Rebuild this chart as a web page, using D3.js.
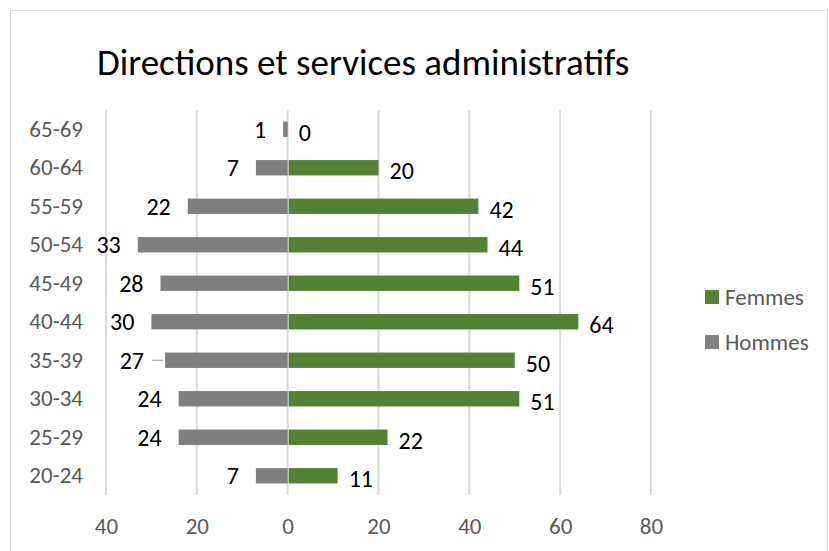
<!DOCTYPE html>
<html>
<head>
<meta charset="utf-8">
<script src="https://cdn.jsdelivr.net/npm/d3@7"></script>
<style>
  body { margin: 0; background: #fff; }
  text { font-family: Carlito, Calibri, "Open Sans", sans-serif; }
</style>
</head>
<body>
<div id="chart"></div>
<script>
// age groups, bottom to top
var categories = ["20-24", "25-29", "30-34", "35-39", "40-44", "45-49", "50-54", "55-59", "60-64", "65-69"];
var hommes = [7, 24, 24, 27, 30, 28, 33, 22, 7, 1];
var femmes = [11, 22, 51, 50, 64, 51, 44, 42, 20, 0];
var ticks = [-40, -20, 0, 20, 40, 60, 80];
var title = "Directions et services administratifs";

var W = 829, H = 551;
var green = "#548235", grey = "#7f7f7f";

var svg = d3.select("#chart").append("svg")
    .attr("width", W)
    .attr("height", H);

// chart frame
svg.append("rect")
    .attr("x", 10.5).attr("y", 10.5)
    .attr("width", W - 12).attr("height", H)
    .attr("fill", "#fff")
    .attr("stroke", "#d9d9d9");

svg.append("text")
    .attr("x", 97).attr("y", 75)
    .attr("font-size", 37)
    .attr("fill", "#000")
    .text(title);

var x = d3.scaleLinear().domain([-40, 80]).range([106, 651]);
var y = d3.scaleBand().domain(categories.slice().reverse()).range([110, 495]).paddingInner(0.6).paddingOuter(0.3);

// gridlines
svg.append("g").selectAll("line")
    .data(ticks)
    .join("line")
    .attr("x1", d => x(d)).attr("x2", d => x(d))
    .attr("y1", 110).attr("y2", 495)
    .attr("stroke", "#d9d9d9")
    .attr("stroke-width", 2);

// bottom axis labels (absolute values)
var xAxis = d3.axisBottom(x).tickValues(ticks).tickFormat(d => Math.abs(d)).tickSize(0).tickPadding(0);
var gx = svg.append("g").attr("transform", "translate(0,518)").call(xAxis);
gx.select(".domain").remove();
gx.selectAll("text").attr("font-size", 23).attr("fill", "#595959").attr("dy", "0.71em")
    .style("font-family", "Carlito, Calibri, 'Open Sans', sans-serif");

// left category labels
var yAxis = d3.axisLeft(y).tickSize(0).tickPadding(0);
var gy = svg.append("g").attr("transform", "translate(83,0)").call(yAxis);
gy.select(".domain").remove();
gy.selectAll("text").attr("font-size", 23).attr("fill", "#595959")
    .style("font-family", "Carlito, Calibri, 'Open Sans', sans-serif");

var rows = categories.map(function(c, i) { return {cat: c, h: hommes[i], f: femmes[i]}; });

// Hommes bars (to the left)
svg.append("g").selectAll("rect")
    .data(rows)
    .join("rect")
    .attr("x", d => x(-d.h))
    .attr("y", d => y(d.cat))
    .attr("width", d => x(0) - x(-d.h))
    .attr("height", y.bandwidth())
    .attr("fill", grey);

// Femmes bars (to the right)
svg.append("g").selectAll("rect")
    .data(rows)
    .join("rect")
    .attr("x", x(0) + 1)
    .attr("y", d => y(d.cat))
    .attr("width", d => Math.max(0, x(d.f) - x(0) - 1))
    .attr("height", y.bandwidth())
    .attr("fill", green);

// value labels
svg.append("g").selectAll("text")
    .data(rows)
    .join("text")
    .attr("x", d => x(-d.h) - (d.cat == "35-39" ? 21 : 17))
    .attr("y", d => y(d.cat) + y.bandwidth() / 2)
    .attr("dy", "0.35em")
    .attr("text-anchor", "end")
    .attr("font-size", 24)
    .attr("fill", "#000")
    .text(d => d.h);

// leader line for the displaced 27 label
var r27 = rows[3];
svg.append("line")
    .attr("x1", x(-r27.h) - 13).attr("x2", x(-r27.h) - 2)
    .attr("y1", y(r27.cat) + y.bandwidth() / 2).attr("y2", y(r27.cat) + y.bandwidth() / 2)
    .attr("stroke", "#a6a6a6").attr("stroke-width", 1.2);

svg.append("g").selectAll("text")
    .data(rows)
    .join("text")
    .attr("x", d => x(d.f) + 11)
    .attr("y", d => y(d.cat) + y.bandwidth() / 2 + 3)
    .attr("dy", "0.35em")
    .attr("font-size", 24)
    .attr("fill", "#000")
    .text(d => d.f);

// legend
var legend = [{name: "Femmes", color: green}, {name: "Hommes", color: grey}];
var lg = svg.append("g").selectAll("g")
    .data(legend)
    .join("g")
    .attr("transform", (d, i) => "translate(705," + (290 + i * 45) + ")");
lg.append("rect").attr("width", 14).attr("height", 14).attr("fill", d => d.color);
lg.append("text")
    .attr("x", 20).attr("y", 7).attr("dy", "0.35em")
    .attr("font-size", 23).attr("fill", "#595959")
    .text(d => d.name);
</script>
</body>
</html>
